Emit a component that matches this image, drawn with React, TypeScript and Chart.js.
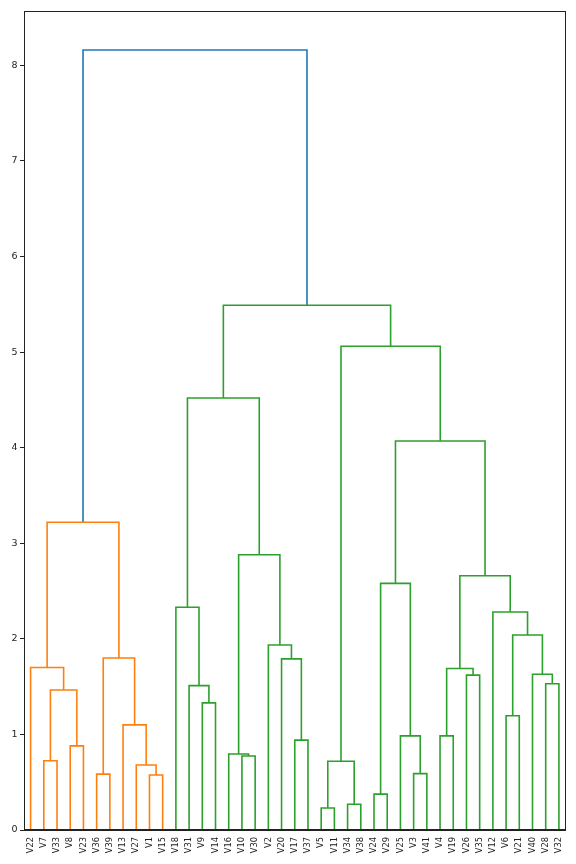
import React, { useEffect, useRef } from "react";
import { Chart, registerables } from "chart.js";
Chart.register(...registerables);

// Leaf labels in dendrogram order
const leafLabels = [
  "V22", "V7", "V33", "V8", "V23", "V36", "V39", "V13", "V27", "V1", "V15",
  "V18", "V31", "V9", "V14", "V16", "V10", "V30", "V2", "V20", "V17", "V37",
  "V5", "V11", "V34", "V38", "V24", "V29", "V25", "V3", "V41", "V4", "V19",
  "V26", "V35", "V12", "V6", "V21", "V40", "V28", "V32",
];

// Merges: node ids 0..40 are leaves, 41+k is the k-th merge
const mergeLeft = [
  1, 3, 41, 0, 5, 9, 8, 7, 45, 44,
  13, 12, 11, 16, 15, 20, 19, 18, 55, 53,
  22, 24, 61, 26, 29, 28, 64, 31, 33, 68,
  36, 39, 38, 71, 35, 70, 67, 63, 60, 50,
];
const mergeRight = [
  2, 4, 42, 43, 6, 10, 46, 47, 48, 49,
  14, 51, 52, 17, 54, 21, 56, 57, 58, 59,
  23, 25, 62, 27, 30, 65, 66, 32, 34, 69,
  37, 40, 72, 73, 74, 75, 76, 77, 78, 79,
];
const mergeHeight = [
  0.725, 0.88, 1.465, 1.70, 0.585, 0.575, 0.68, 1.10, 1.80, 3.22,
  1.33, 1.51, 2.33, 0.774, 0.795, 0.94, 1.79, 1.935, 2.88, 4.52,
  0.23, 0.27, 0.72, 0.375, 0.59, 0.985, 2.58, 0.985, 1.62, 1.69,
  1.195, 1.53, 1.63, 2.04, 2.28, 2.66, 4.07, 5.06, 5.49, 8.16,
];

const yTicks = [0, 1, 2, 3, 4, 5, 6, 7, 8];
const clusterColors = ["#ff7f0e", "#2ca02c", "#d62728", "#9467bd"];
const aboveColor = "#1f77b4";

function buildDatasets() {
  const n = leafLabels.length;
  const xPos: number[] = leafLabels.map((_, i) => 5 + 10 * i);
  const yPos: number[] = leafLabels.map(() => 0);
  mergeHeight.forEach((h, k) => {
    xPos[n + k] = (xPos[mergeLeft[k]] + xPos[mergeRight[k]]) / 2;
    yPos[n + k] = h;
  });
  const maxH = Math.max(...mergeHeight);
  const threshold = 0.7 * maxH;
  const colors: string[] = [];
  let ci = 0;
  const paint = (id: number, c: string) => {
    if (id < n) return;
    const k = id - n;
    colors[k] = c;
    paint(mergeLeft[k], c);
    paint(mergeRight[k], c);
  };
  const assign = (id: number) => {
    if (id < n) return;
    const k = id - n;
    if (mergeHeight[k] >= threshold) {
      colors[k] = aboveColor;
      assign(mergeLeft[k]);
      assign(mergeRight[k]);
    } else {
      paint(id, clusterColors[ci++ % clusterColors.length]);
    }
  };
  assign(n + mergeHeight.length - 1);
  return mergeHeight.map((h, k) => {
    const l = mergeLeft[k];
    const r = mergeRight[k];
    return {
      data: [
        { x: xPos[l], y: yPos[l] },
        { x: xPos[l], y: h },
        { x: xPos[r], y: h },
        { x: xPos[r], y: yPos[r] },
      ],
      showLine: true,
      borderColor: colors[k],
      backgroundColor: colors[k],
      borderWidth: 1.6,
      pointRadius: 0,
      tension: 0,
      fill: false,
    };
  });
}

const framePlugin = {
  id: "frame",
  afterDraw(chart: any) {
    const { ctx, chartArea } = chart;
    ctx.save();
    ctx.strokeStyle = "#222";
    ctx.lineWidth = 1;
    ctx.strokeRect(
      Math.round(chartArea.left) + 0.5,
      Math.round(chartArea.top) + 0.5,
      Math.round(chartArea.right - chartArea.left) - 1,
      Math.round(chartArea.bottom - chartArea.top) - 1
    );
    ctx.restore();
  },
};

export default function App() {
  const ref = useRef<HTMLCanvasElement>(null);
  useEffect(() => {
    if (!ref.current) return;
    Chart.defaults.font.family = "DejaVu Sans";
    const maxH = Math.max(...mergeHeight);
    const chart = new Chart(ref.current, {
      type: "scatter",
      data: { datasets: buildDatasets() as any },
      options: {
        animation: false,
        responsive: false,
        devicePixelRatio: 1,
        layout: { padding: { top: 11, right: 10, left: 0, bottom: 0 } },
        plugins: { legend: { display: false }, tooltip: { enabled: false } },
        scales: {
          x: {
            type: "linear",
            min: 0,
            max: leafLabels.length * 10,
            afterBuildTicks: (scale: any) => {
              scale.ticks = leafLabels.map((_, i) => ({ value: 5 + 10 * i }));
            },
            afterFit: (scale: any) => {
              scale.height = 34;
            },
            ticks: {
              autoSkip: false,
              minRotation: 90,
              maxRotation: 90,
              padding: 7,
              color: "#222",
              font: { size: 8.3, family: "DejaVu Sans" },
              callback: (v: any) => leafLabels[Math.round((Number(v) - 5) / 10)],
            },
            grid: { display: true, drawOnChartArea: false, drawTicks: false, tickLength: 0 },
            border: { display: true, color: "#222", width: 1 },
          },
          y: {
            type: "linear",
            min: 0,
            max: maxH * 1.05,
            afterBuildTicks: (scale: any) => {
              scale.ticks = yTicks.map((v) => ({ value: v }));
            },
            afterFit: (scale: any) => {
              scale.width = 24;
            },
            ticks: {
              padding: 2.5,
              color: "#222",
              font: { size: 9.5, family: "DejaVu Sans" },
              callback: (v: any) => String(v),
            },
            grid: {
              display: true,
              drawOnChartArea: false,
              drawTicks: true,
              tickLength: 4,
              tickColor: "#222",
            },
            border: { display: true, color: "#222", width: 1 },
          },
        },
      },
      plugins: [framePlugin],
    });
    return () => chart.destroy();
  }, []);
  return (
    <div style={{ position: "absolute", left: 0, top: 0, width: 576, height: 864, background: "#fff" }}>
      <canvas ref={ref} width={576} height={864} style={{ width: 576, height: 864 }} />
    </div>
  );
}
